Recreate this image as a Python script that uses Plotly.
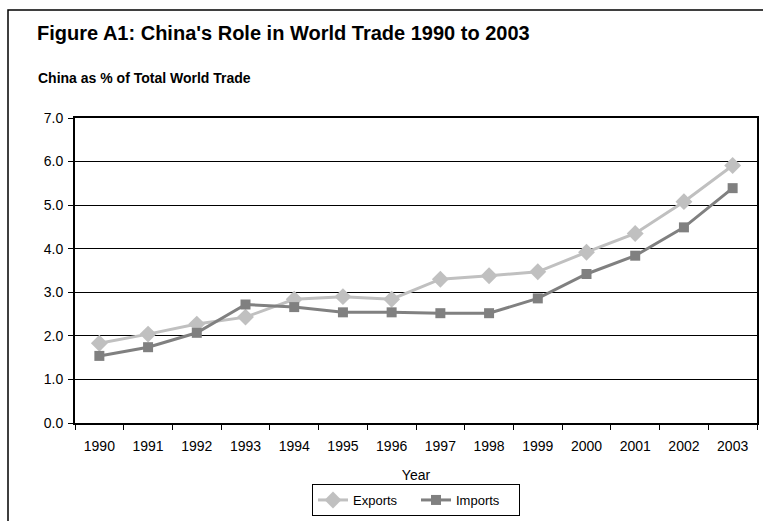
import plotly.graph_objects as go

years = ["1990", "1991", "1992", "1993", "1994", "1995", "1996",
         "1997", "1998", "1999", "2000", "2001", "2002", "2003"]
exports = [1.83, 2.04, 2.27, 2.43, 2.84, 2.90, 2.84, 3.30, 3.38, 3.47, 3.92, 4.35, 5.08, 5.91]
imports = [1.54, 1.74, 2.07, 2.72, 2.66, 2.54, 2.54, 2.52, 2.52, 2.86, 3.42, 3.84, 4.49, 5.39]

FONT = "Liberation Sans, Arial, sans-serif"

fig = go.Figure()
fig.add_trace(go.Scatter(
    x=years, y=exports, name="Exports", mode="lines+markers",
    line=dict(color="#C0C0C0", width=3),
    marker=dict(symbol="diamond", size=13, color="#C0C0C0"),
))
fig.add_trace(go.Scatter(
    x=years, y=imports, name="Imports", mode="lines+markers",
    line=dict(color="#808080", width=3),
    marker=dict(symbol="square", size=10, color="#808080"),
))

L, R, T, B = 75, 6, 118, 98
W, H = 763, 521
pw, ph = W - L - R, H - T - B

def px(x):
    return (x - L) / pw

def py(y):
    return (H - B - y) / ph

fig.update_layout(
    width=W, height=H,
    margin=dict(l=L, r=R, t=T, b=B, autoexpand=False),
    paper_bgcolor="white", plot_bgcolor="white",
    font=dict(family=FONT, size=14, color="black"),
    showlegend=True,
    legend=dict(
        orientation="h", x=px(416), xanchor="center", y=py(516), yanchor="bottom",
        bordercolor="black", borderwidth=1, bgcolor="white",
        font=dict(size=13), tracegroupgap=0, entrywidth=58,
    ),
    xaxis=dict(
        type="category", range=[-0.5, 13.5], showgrid=False, zeroline=False,
        ticks="outside", tickson="boundaries", ticklen=5, tickcolor="black",
        showline=True, linecolor="black", linewidth=2, mirror=True,
        title=dict(text="Year", font=dict(size=14), standoff=17),
        tickfont=dict(size=14), ticklabelstandoff=9, automargin=False,
    ),
    yaxis=dict(
        range=[0, 7], dtick=1, tickformat=".1f",
        showgrid=True, gridcolor="black", gridwidth=1, zeroline=False,
        ticks="outside", ticklen=5, tickcolor="black",
        showline=True, linecolor="black", linewidth=2, mirror=True,
        tickfont=dict(size=14), ticklabelstandoff=2, automargin=False,
    ),
    shapes=[dict(
        type="rect", xref="paper", yref="paper",
        x0=px(8), x1=px(800), y0=py(560), y1=py(10),
        line=dict(color="black", width=1.5), fillcolor="rgba(0,0,0,0)", layer="below",
    )],
    annotations=[
        dict(text="<b>Figure A1: China's Role in World Trade 1990 to 2003</b>",
             xref="paper", yref="paper", x=px(35), y=py(33), xanchor="left", yanchor="middle",
             showarrow=False, font=dict(size=20, family=FONT)),
        dict(text="<b>China as % of Total World Trade</b>",
             xref="paper", yref="paper", x=px(36), y=py(78), xanchor="left", yanchor="middle",
             showarrow=False, font=dict(size=14, family=FONT)),
    ],
)

fig.write_html("out.html")
